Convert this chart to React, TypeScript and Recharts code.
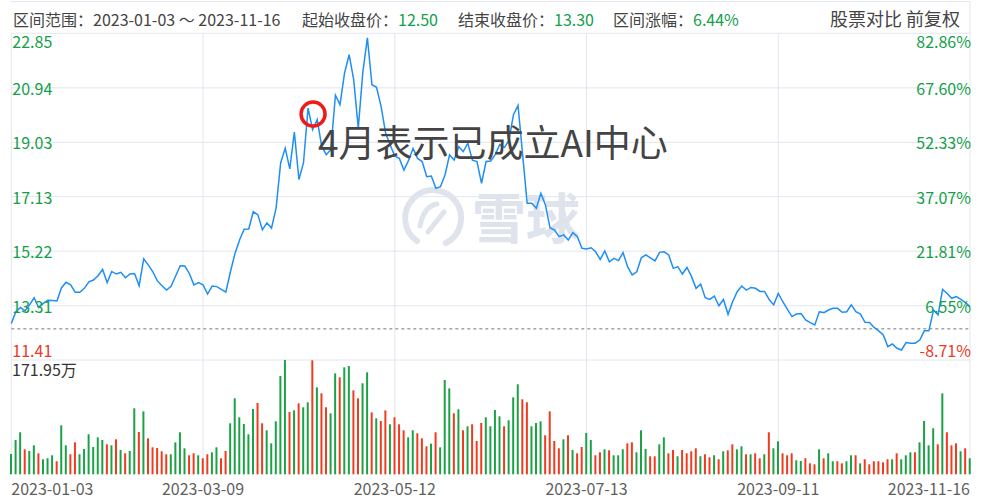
import { LineChart, Line, BarChart, Bar, Cell, XAxis, YAxis, CartesianGrid, ReferenceLine, ReferenceDot } from 'recharts';

const FONT = '"Noto Sans CJK SC", "Noto Sans", sans-serif';
const GREEN = '#13a04a';
const RED = '#ea3a1f';
const GRID = '#e3e6ee';
const TEXT = '#444';

// daily close, 2023-01-03 .. 2023-11-16 (211 trading days)
const prices = [
  12.69, 13.10, 13.25, 13.13, 13.34, 13.59, 13.25, 13.39, 13.50, 13.49,
  13.48, 13.94, 14.13, 14.04, 13.78, 13.78, 13.92, 14.15, 14.21, 14.36,
  14.58, 14.12, 14.51, 14.42, 14.48, 14.29, 14.42, 14.44, 14.01, 14.95,
  14.74, 14.50, 14.18, 14.01, 13.86, 13.99, 14.35, 14.71, 14.70, 14.44,
  14.04, 14.12, 14.04, 13.72, 14.00, 13.98, 13.88, 13.79, 14.50, 15.14,
  15.61, 15.99, 16.00, 16.60, 16.50, 15.97, 16.21, 16.03, 16.73, 18.31,
  18.83, 18.10, 19.39, 17.73, 18.31, 20.23, 19.48, 19.83, 18.89, 18.60,
  18.78, 20.68, 20.35, 21.46, 22.10, 21.23, 19.53, 21.48, 22.69, 21.05,
  20.96, 20.29, 19.35, 18.94, 18.55, 18.47, 18.06, 18.39, 18.82, 18.47,
  18.36, 17.83, 17.85, 17.42, 17.48, 17.89, 18.59, 18.41, 18.88, 18.71,
  19.00, 18.41, 18.36, 17.60, 18.36, 18.38, 18.60, 18.95, 18.85, 19.10,
  20.00, 20.32, 18.60, 16.90, 16.90, 16.72, 17.25, 16.84, 16.04, 15.96,
  15.73, 15.79, 15.61, 15.87, 15.73, 15.32, 15.30, 15.34, 15.20, 14.93,
  15.23, 14.85, 14.97, 14.89, 15.17, 14.68, 14.39, 14.50, 14.99, 15.09,
  14.99, 14.88, 15.18, 15.20, 15.09, 14.62, 14.68, 14.42, 14.65, 14.33,
  13.92, 14.07, 13.59, 13.53, 13.65, 13.31, 13.53, 13.01, 13.45, 13.80,
  14.00, 13.86, 13.95, 13.92, 13.81, 13.81, 13.53, 13.34, 13.74, 13.45,
  13.18, 12.93, 13.02, 13.04, 12.81, 12.72, 12.64, 13.10, 13.07, 13.16,
  13.22, 13.22, 13.08, 13.10, 13.34, 13.10, 13.02, 12.73, 12.72, 12.55,
  12.43, 12.29, 11.88, 11.97, 11.82, 11.76, 12.02, 12.00, 12.00, 12.11,
  12.43, 12.43, 13.16, 12.99, 13.88, 13.74, 13.57, 13.63, 13.53, 13.42,
  13.28,
];

// daily volume, 万
const volumes = [
  30.6, 51.6, 63.2, 37.6, 35.1, 43.6, 31.6, 22.6, 24.1, 28.6,
  19.6, 73.7, 43.6, 30.1, 48.1, 30.1, 38.1, 60.2, 41.1, 55.6,
  51.6, 45.1, 43.6, 52.6, 36.6, 31.6, 35.1, 99.3, 63.7, 94.7,
  54.1, 40.6, 39.6, 34.6, 30.1, 30.1, 48.1, 63.2, 39.1, 28.6,
  31.6, 28.6, 24.1, 30.1, 33.1, 40.6, 24.1, 35.1, 76.7, 114.3,
  85.7, 75.7, 60.2, 98.3, 107.3, 76.7, 66.2, 46.6, 79.7, 147.9,
  171.95, 93.7, 96.2, 106.8, 100.8, 108.3, 171.5, 130.8, 121.8, 100.8,
  91.7, 151.9, 145.9, 160.9, 162.9, 126.3, 114.3, 136.9, 153.4, 93.2,
  84.2, 80.2, 96.2, 75.2, 85.7, 75.2, 66.2, 55.6, 66.2, 61.7,
  54.1, 42.1, 46.1, 63.2, 40.6, 141.9, 129.3, 91.7, 97.8, 66.2,
  72.2, 75.2, 50.1, 77.2, 85.7, 72.2, 96.8, 87.2, 72.2, 81.2,
  115.8, 135.4, 112.8, 108.3, 72.2, 77.2, 79.7, 58.7, 94.7, 50.1,
  39.1, 52.6, 58.7, 36.6, 31.6, 41.1, 62.2, 51.6, 28.6, 33.1,
  37.6, 36.1, 28.6, 28.6, 37.6, 46.6, 48.1, 33.1, 66.2, 38.1,
  27.1, 27.1, 45.1, 55.6, 31.6, 36.6, 27.1, 36.6, 31.6, 34.6,
  39.1, 27.1, 30.1, 25.6, 28.6, 22.6, 34.6, 36.1, 45.1, 37.6,
  42.1, 30.1, 30.1, 31.6, 24.1, 30.1, 63.2, 39.1, 49.6, 31.6,
  28.6, 31.6, 21.1, 20.1, 24.1, 16.5, 15.0, 37.6, 24.1, 31.6,
  19.6, 19.6, 16.5, 19.6, 28.6, 28.6, 16.5, 22.6, 15.0, 19.6,
  19.6, 18.0, 22.6, 22.6, 31.6, 22.6, 28.6, 33.1, 33.1, 48.1,
  80.2, 43.6, 69.2, 45.1, 121.8, 63.2, 43.6, 46.6, 34.6, 39.1,
  24.1,
];

// G = up day (green), R = down day (red)
const dirs =
  'GGGRGGRGGG' + 'RGGRRGGGGG' + 'GRGRGRGGRG' + 'RRRRRGGGGR' + 'RGRRGGRRGG' +
  'GGGGRRGGGG' + 'GRGRGGRGRR' + 'GGRGGRRGGR' + 'GRRGRRRGGR' + 'RRGRGGGRGR' +
  'GRRRGGGGRG' + 'GGRRGGGRRR' + 'RGRGRRGGRR' + 'GRGGGRRGGG' + 'RRGGRRGRRR' +
  'RGRRGRGRRG' + 'GRGRRGRGGR' + 'RRGGRRRGRG' + 'GRRGGRGRRR' + 'RRRGRGGGRG' +
  'GGGRGRRRGRG';

const dateTicks = [0, 42, 84, 126, 168, 210];
const dateLabels = ['2023-01-03', '2023-03-09', '2023-05-12', '2023-07-13', '2023-09-11', '2023-11-16'];
const priceTicks = [11.41, 13.31, 15.22, 17.13, 19.03, 20.94, 22.85];
const pctLabels = ['-8.71%', '6.55%', '21.81%', '37.07%', '52.33%', '67.60%', '82.86%'];
const startClose = 12.5;
const volMax = 171.95;

const W = 982;
const H = 503;
const LEFT = 11.3;
const RIGHT = 970;
const TOP = 33.3;
const MID = 360;
const BOTTOM = 474.3;

const rows = prices.map((p, i) => ({ i, p, v: volumes[i], d: dirs[i] }));

// price on the left, change vs. start close on the right, both inside the plot
const priceTick = (props: any) => {
  const { y, payload } = props;
  const v = payload.value as number;
  const k = priceTicks.indexOf(v);
  const dy = k === 0 ? -3 : k === priceTicks.length - 1 ? 15 : 7;
  const fill = v < startClose ? RED : GREEN;
  return (
    <g>
      <text x={LEFT + 1} y={y + dy} textAnchor="start" fill={fill} fontSize={16} fontFamily={FONT}>
        {v.toFixed(2)}
      </text>
      <text x={RIGHT + 1} y={y + dy} textAnchor="end" fill={fill} fontSize={16} fontFamily={FONT}>
        {pctLabels[k]}
      </text>
    </g>
  );
};

const dateTick = (props: any) => {
  const { x, payload } = props;
  const k = dateTicks.indexOf(payload.value);
  const anchor = k === 0 ? 'start' : k === dateTicks.length - 1 ? 'end' : 'middle';
  return (
    <text x={x} y={BOTTOM + 21} textAnchor={anchor} fill="#5f5f5f" fontSize={16} fontFamily={FONT}>
      {dateLabels[k]}
    </text>
  );
};

const abs = { position: 'absolute' as const, top: 0, left: 0 };

export default function App() {
  return (
    <div style={{ ...abs, width: W, height: H, background: '#fff', fontFamily: FONT, overflow: 'hidden' }}>
      {/* frame + watermark */}
      <svg width={W} height={H} style={abs}>
        <line x1={LEFT} x2={RIGHT} y1={1.5} y2={1.5} stroke={GRID} />
        <line x1={RIGHT} x2={RIGHT} y1={1.5} y2={TOP} stroke={GRID} />
        <path d="M417 241 A28 28 0 1 1 446 243" fill="none" stroke="#dfe3eb" strokeWidth={6} strokeLinecap="round" />
        <path d="M420 226 Q424 206 437 204 M428 232 L444 212" stroke="#dfe3eb" strokeWidth={5} strokeLinecap="round" fill="none" />
        <text x={472} y={239} fontSize={54} fontWeight={700} fill="#dfe3eb" fontFamily={FONT}>雪球</text>
      </svg>

      <div style={{ ...abs }}>
        <LineChart width={W} height={H} data={rows} margin={{ top: TOP, right: W - RIGHT, bottom: H - MID, left: LEFT }}>
          <XAxis dataKey="i" type="number" domain={[0, 210]} ticks={dateTicks} interval={0} hide />
          <YAxis domain={[11.41, 22.85]} ticks={priceTicks} interval={0} mirror axisLine={false} tickLine={false} tick={priceTick} />
          <CartesianGrid stroke={GRID} />
          <ReferenceLine y={startClose} stroke="#777" strokeDasharray="3 3" />
          <Line dataKey="p" type="linear" stroke="#1f8ef5" strokeWidth={1.5} dot={false} isAnimationActive={false} />
          <ReferenceDot x={66.1} y={20.02} r={12} fill="none" stroke="#f01a1a" strokeWidth={3.5} />
        </LineChart>
      </div>

      <div style={{ ...abs }}>
        <BarChart width={W} height={H} data={rows} margin={{ top: MID, right: W - RIGHT, bottom: 0, left: LEFT }}>
          <XAxis
            dataKey="i"
            type="number"
            domain={[0, 210]}
            ticks={dateTicks}
            interval={0}
            height={H - BOTTOM}
            axisLine={false}
            tickLine={false}
            tick={dateTick}
          />
          <YAxis domain={[0, volMax]} hide />
          <CartesianGrid horizontal={false} stroke={GRID} />
          <Bar dataKey="v" barSize={2} isAnimationActive={false}>
            {rows.map((r) => (
              <Cell key={r.i} fill={r.d === 'G' ? '#1ba246' : '#f03b1e'} />
            ))}
          </Bar>
        </BarChart>
      </div>

      <svg width={W} height={H} style={{ ...abs, pointerEvents: 'none' }}>
        <text x={318} y={157} fontSize={37} fill="#444" fontFamily={FONT}>4月表示已成立AI中心</text>
        <text x={12} y={376} fontSize={16} fill="#333" fontFamily={FONT}>171.95万</text>
      </svg>

      <div style={{ ...abs, top: 9, fontSize: 16, lineHeight: '20px', color: TEXT, whiteSpace: 'nowrap' }}>
        <span style={{ position: 'absolute', left: 13 }}>区间范围：2023-01-03 ～ 2023-11-16</span>
        <span style={{ position: 'absolute', left: 302 }}>
          起始收盘价：<span style={{ color: GREEN }}>12.50</span>
        </span>
        <span style={{ position: 'absolute', left: 458 }}>
          结束收盘价：<span style={{ color: GREEN }}>13.30</span>
        </span>
        <span style={{ position: 'absolute', left: 613 }}>
          区间涨幅：<span style={{ color: GREEN }}>6.44%</span>
        </span>
        <span style={{ position: 'absolute', left: 830, top: -1, fontSize: 18 }}>股票对比 前复权</span>
      </div>
    </div>
  );
}
